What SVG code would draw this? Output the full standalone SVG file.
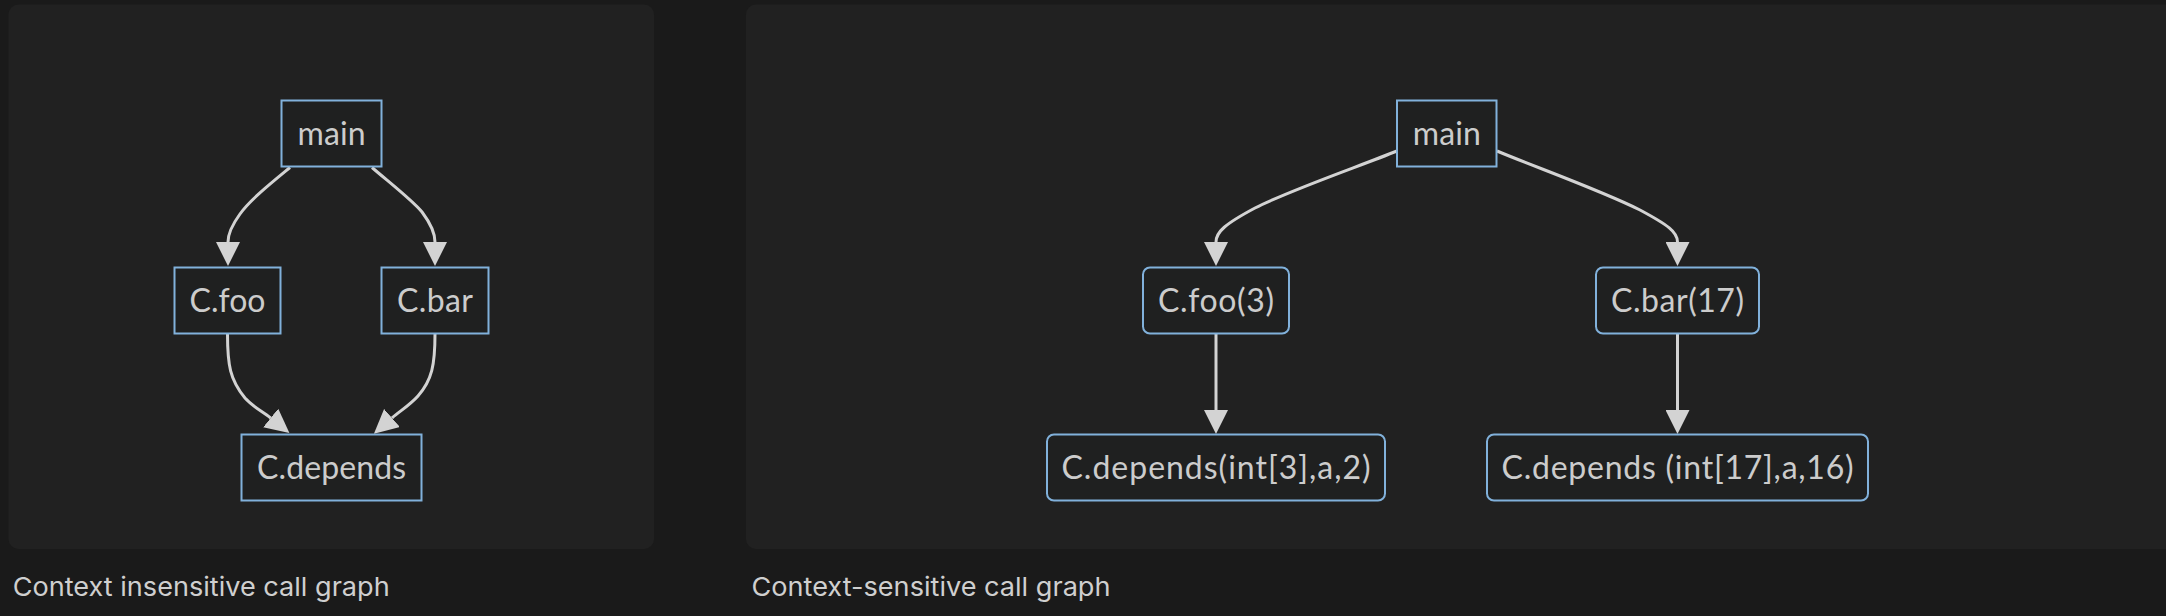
<svg xmlns="http://www.w3.org/2000/svg" width="2166" height="616" viewBox="0 0 2166 616">
<style>
.panel{fill:#212121}
.node rect{fill:#1f2020;stroke:#81b1db;stroke-width:2}
.node text{fill:#cccccc;font-family:Lato,"Liberation Sans",sans-serif;font-size:32px;text-anchor:middle}
.edge{fill:none;stroke:#d3d3d3;stroke-width:3}
.caption{fill:#cfcfcf;font-family:Inter,"Liberation Sans",sans-serif;font-size:26px}
</style>
<defs>
<marker id="arrow" viewBox="0 0 10 10" refX="0" refY="5" markerWidth="24" markerHeight="24" markerUnits="userSpaceOnUse" orient="auto">
<path d="M0,0 L10,5 L0,10 z" fill="#d3d3d3"/>
</marker>
</defs>
<rect x="0" y="0" width="2166" height="616" fill="#1a1a1a"/>
<rect class="panel" x="8.5" y="4.5" width="645.5" height="544.5" rx="10"/>
<rect class="panel" x="746" y="4.5" width="1440" height="544.5" rx="10"/>

<g id="connectors">
<path class="edge" marker-end="url(#arrow)" d="M290,167.5 C270,184 250,200 240,214 C232,225 228,233 228,242"/>
<path class="edge" marker-end="url(#arrow)" d="M372,167.5 C390,183 412,200 422,212 C431,224 435,233 435,242"/>
<path class="edge" marker-end="url(#arrow)" d="M227.5,334 C227.5,365 230,380 245,398 C253,407 262,411 270.7,418"/>
<path class="edge" marker-end="url(#arrow)" d="M435,334 C435,365 432,380 418,396 C410,405 400,411 392,418"/>
<path class="edge" marker-end="url(#arrow)" d="M1397,151 C1360,166 1290,190 1255,208 C1225,224 1216,232 1216,242"/>
<path class="edge" marker-end="url(#arrow)" d="M1497,151 C1535,167 1600,190 1640,210 C1668,225 1677.5,232 1677.5,242"/>
<path class="edge" marker-end="url(#arrow)" d="M1216,334 L1216,410"/>
<path class="edge" marker-end="url(#arrow)" d="M1677.5,334 L1677.5,410"/>
</g>

<g id="ci-main" class="node"><rect x="281.5" y="100.5" width="100" height="66"/><text x="331.5" y="145" textLength="68">main</text></g>
<g id="ci-foo" class="node"><rect x="174.5" y="267.5" width="106" height="66"/><text x="227.5" y="312" textLength="76">C.foo</text></g>
<g id="ci-bar" class="node"><rect x="381.5" y="267.5" width="107" height="66"/><text x="435" y="312" textLength="76">C.bar</text></g>
<g id="ci-depends" class="node"><rect x="241.5" y="434.5" width="180" height="66"/><text x="331.5" y="479" textLength="149">C.depends</text></g>

<g id="cs-main" class="node"><rect x="1397" y="100.5" width="99.5" height="66"/><text x="1446.75" y="145" textLength="68">main</text></g>
<g id="cs-foo" class="node"><rect x="1143" y="267.5" width="146" height="66" rx="7"/><text x="1216" y="312" textLength="116">C.foo(3)</text></g>
<g id="cs-bar" class="node"><rect x="1596" y="267.5" width="163" height="66" rx="7"/><text x="1677.5" y="312" textLength="133">C.bar(17)</text></g>
<g id="cs-dep1" class="node"><rect x="1047" y="434.5" width="338" height="66" rx="7"/><text x="1216" y="479" textLength="309">C.depends(int[3],a,2)</text></g>
<g id="cs-dep2" class="node"><rect x="1487" y="434.5" width="381" height="66" rx="7"/><text x="1677.5" y="479" textLength="352">C.depends (int[17],a,16)</text></g>

<text class="caption" x="12.7" y="596" textLength="377" lengthAdjust="spacingAndGlyphs">Context insensitive call graph</text>
<text class="caption" x="751.5" y="596" textLength="359" lengthAdjust="spacingAndGlyphs">Context-sensitive call graph</text>
</svg>
